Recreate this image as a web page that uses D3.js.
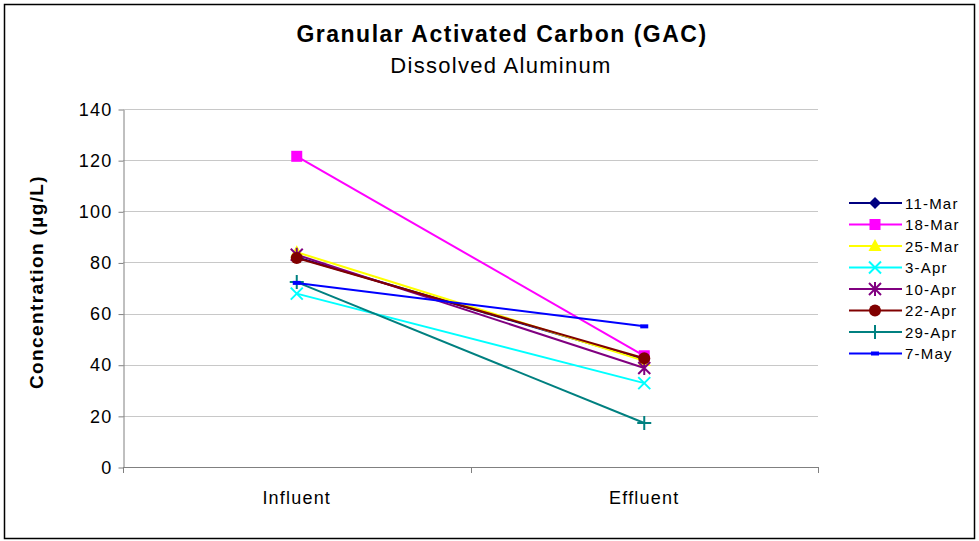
<!DOCTYPE html>
<head>
  <meta charset="utf-8">
  <script src="https://d3js.org/d3.v7.min.js"></script>
  <style>
body { margin: 0; background: #fff; }
text { font-family: "Liberation Sans", Arial, sans-serif; fill: #000; letter-spacing: 1.2px; }
.grid line { stroke: #c8c8c8; stroke-width: 1px; }
.axis path, .axis line { stroke: #808080; }
  </style>
</head>
<body>
  <script>
    // categories and series (µg/L)
    var categories = ["Influent", "Effluent"];
    var seriesNames = ["11-Mar", "18-Mar", "25-Mar", "3-Apr", "10-Apr", "22-Apr", "29-Apr", "7-May"];
    var mar11 = [82, 42];
    var mar18 = [121.5, 43.5];
    var mar25 = [84, 41.5];
    var apr3  = [67.8, 32.8];
    var apr10 = [83, 38.7];
    var apr22 = [81.7, 42.5];
    var apr29 = [72.3, 17.2];
    var may7  = [72, 55];
    var yTicks = [0, 20, 40, 60, 80, 100, 120, 140];

    var values = [mar11, mar18, mar25, apr3, apr10, apr22, apr29, may7];
    var colors = ["#000080", "#ff00ff", "#ffff00", "#00ffff", "#800080", "#800000", "#008080", "#0000ff"];
    var shapes = ["diamond", "square", "triangle", "x", "star", "circle", "plus", "dash"];

    var W = 979, H = 541;
    var svg = d3.select("body").append("svg").attr("width", W).attr("height", H);

    svg.append("rect").attr("x", 4.5).attr("y", 4.5).attr("width", 970).attr("height", 534)
      .attr("fill", "#fff").attr("stroke", "#000").attr("stroke-width", 1.5);

    var pLeft = 123, pRight = 818, pTop = 109, pBottom = 467;
    var x = d3.scaleBand().domain(categories).range([pLeft, pRight]);
    var y = d3.scaleLinear().domain([0, 140]).range([pBottom, pTop]);

    // gridlines
    svg.append("g").attr("class", "grid")
      .selectAll("line").data(yTicks.filter(d => d > 0)).enter().append("line")
      .attr("x1", pLeft).attr("x2", pRight)
      .attr("y1", d => Math.round(y(d)) + 0.5).attr("y2", d => Math.round(y(d)) + 0.5);

    // y axis
    var yAxis = svg.append("g").attr("class", "axis").attr("transform", "translate(" + (pLeft + 0.5) + ",0.5)")
      .call(d3.axisLeft(y).tickValues(yTicks).tickSize(5).tickSizeOuter(0).tickPadding(6));
    yAxis.select(".domain").attr("stroke", "#808080");
    yAxis.selectAll("line").attr("stroke", "#808080");
    yAxis.selectAll("text").style("font-size", "18px").attr("fill", "#000").attr("font-family", null);

    // x axis with ticks between categories
    var xg = svg.append("g").attr("class", "axis");
    xg.append("line").attr("x1", pLeft).attr("x2", pRight).attr("y1", pBottom + 0.5).attr("y2", pBottom + 0.5);
    xg.selectAll(".tk").data([pLeft, (pLeft + pRight) / 2, pRight]).enter().append("line")
      .attr("x1", d => Math.round(d) + 0.5).attr("x2", d => Math.round(d) + 0.5)
      .attr("y1", pBottom).attr("y2", pBottom + 6);
    xg.selectAll("text").data(categories).enter().append("text")
      .attr("x", d => x(d) + x.bandwidth() / 2).attr("y", 504)
      .attr("text-anchor", "middle").style("font-size", "18px").text(d => d);

    var cx = c => x(c) + x.bandwidth() / 2;

    function marker(g, shape, color) {
      if (shape === "diamond") g.append("path").attr("d", "M0,-6L6,0L0,6L-6,0Z").attr("fill", color);
      else if (shape === "square") g.append("rect").attr("x", -5.5).attr("y", -5.5).attr("width", 11).attr("height", 11).attr("fill", color);
      else if (shape === "triangle") g.append("path").attr("d", "M0,-7L6.5,5L-6.5,5Z").attr("fill", color);
      else if (shape === "circle") g.append("circle").attr("r", 6).attr("fill", color);
      else if (shape === "x") g.append("path").attr("d", "M-6,-6L6,6M-6,6L6,-6").attr("stroke", color).attr("stroke-width", 2);
      else if (shape === "star") g.append("path").attr("d", "M-6,-6L6,6M-6,6L6,-6M0,-7L0,7").attr("stroke", color).attr("stroke-width", 2);
      else if (shape === "plus") g.append("path").attr("d", "M-7,0L7,0M0,-7L0,7").attr("stroke", color).attr("stroke-width", 2);
      else if (shape === "dash") g.append("rect").attr("x", -4).attr("y", -2).attr("width", 8).attr("height", 4).attr("fill", color);
    }

    var line = d3.line().x((d, i) => cx(categories[i])).y(d => y(d));

    values.forEach(function(v, k) {
      svg.append("path").datum(v).attr("d", line)
        .attr("fill", "none").attr("stroke", colors[k]).attr("stroke-width", 2);
      v.forEach(function(d, i) {
        var g = svg.append("g").attr("transform", "translate(" + cx(categories[i]) + "," + y(d) + ")");
        marker(g, shapes[k], colors[k]);
      });
    });

    // legend
    var lg = svg.append("g");
    seriesNames.forEach(function(n, k) {
      var yy = 203 + k * 21.5;
      lg.append("line").attr("x1", 849).attr("x2", 902).attr("y1", yy).attr("y2", yy)
        .attr("stroke", colors[k]).attr("stroke-width", 2);
      marker(lg.append("g").attr("transform", "translate(875," + yy + ")"), shapes[k], colors[k]);
      lg.append("text").attr("x", 905).attr("y", yy + 5.5).style("font-size", "15px").text(n);
    });

    // titles
    svg.append("text").attr("x", 502).attr("y", 42).attr("text-anchor", "middle")
      .style("font-size", "23px").style("font-weight", "bold").style("letter-spacing", "1.5px")
      .text("Granular Activated Carbon (GAC)");
    svg.append("text").attr("x", 501).attr("y", 73).attr("text-anchor", "middle")
      .style("font-size", "22px").style("letter-spacing", "1.3px").text("Dissolved Aluminum");
    svg.append("text").attr("transform", "translate(43," + ((pTop + pBottom) / 2 - 6) + ") rotate(-90)")
      .attr("text-anchor", "middle").style("font-size", "19px").style("font-weight", "bold")
      .style("letter-spacing", "1.4px")
      .text("Concentration (µg/L)");
  </script>
</body>
